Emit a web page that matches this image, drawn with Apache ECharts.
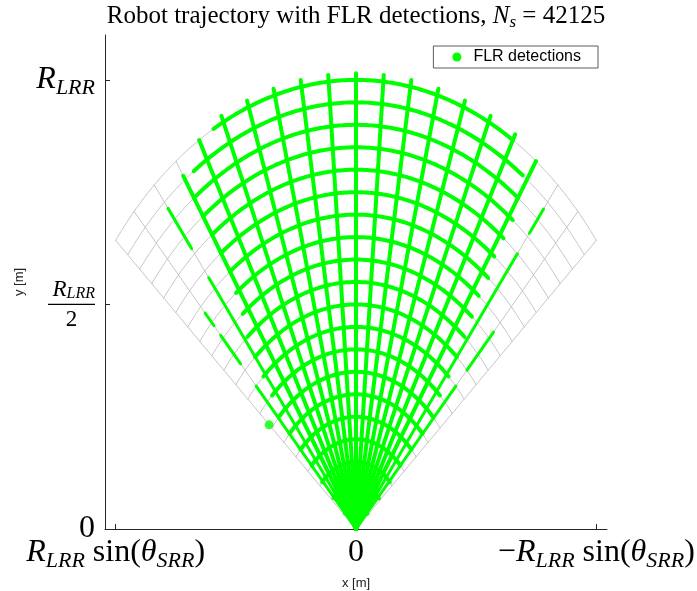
<!DOCTYPE html>
<html>
<head>
<meta charset="utf-8">
<script src="https://cdn.jsdelivr.net/npm/echarts@6/dist/echarts.min.js"></script>
<style>
  html, body { margin: 0; padding: 0; background: #fff; }
  #chart { width: 697px; height: 591px; }
</style>
</head>
<body>
<div id="chart"></div>
<script>
// sensor fan, normalised to R_LRR = 1
var thetaSRR = 50; // deg
var gridRadii = [0.05, 0.1, 0.15, 0.2, 0.25, 0.3, 0.35, 0.4, 0.45, 0.5,
                 0.55, 0.6, 0.65, 0.7, 0.75, 0.8, 0.85, 0.9, 0.95, 1.0];
var gridAngles = [-50, -45, -40, -35, -30, -25, -20, -15, -10, -5, 0,
                  5, 10, 15, 20, 25, 30, 35, 40, 45, 50];

// FLR detections along the trajectory
// radial legs: angle and the [from, to] radius pieces where detections show up
var detAngles = [-45, -40, -35, -30, -25, -20, -15, -10, -5, 0,
                 5, 10, 15, 20, 25, 30, 35, 40, 45];
var detRadialPieces = [
  [[0, 0.45], [0.5, 0.62]],
  [[0, 0.8], [0.86, 0.93]],
  [[0, 1.0]],
  [[0, 1.015]], [[0, 1.015]], [[0, 1.015]], [[0, 1.015]], [[0, 1.015]], [[0, 1.015]],
  [[0, 1.015]],
  [[0, 1.015]], [[0, 1.015]], [[0, 1.015]], [[0, 1.015]], [[0, 1.015]], [[0, 1.0]],
  [[0, 0.96]],
  [[0, 0.73], [0.815, 0.932]],
  [[0, 0.45], [0.52, 0.61], [0.64, 0.68]]
];
// arcs: angular extent of detections on each grid radius
var detArcRight = [-47, -47, -46, -45, -45, -45, -44, -42, -41, -40,
                   -39, -38, -37, -37, -36, -36, -36, -35, -34, -30];
var detArcLeft = [47, 47, 46, 45, 45, 45, 44, 42, 41, 40,
                  39, 37, 36, 35, 35, 35, 35, 35, 33, 27];
var strayX = [0.277];
var strayY = [0.232];

var yTicks = [0, 0.5, 1];
var xTicks = [-Math.sin(thetaSRR * Math.PI / 180), 0, Math.sin(thetaSRR * Math.PI / 180)];

var SERIF = 'Liberation Serif';
var SANS = 'Liberation Sans';
var GREEN = '#00ff00';

function pt(r, a) {
  var t = a * Math.PI / 180;
  return [r * Math.sin(t), r * Math.cos(t)];
}
function arc(r, a0, a1) {
  var out = [];
  var n = Math.max(2, Math.ceil(Math.abs(a1 - a0) / 0.5));
  for (var i = 0; i <= n; i++) out.push(pt(r, a0 + (a1 - a0) * i / n));
  return out;
}
function lineSeries(name, data, color, width, z) {
  return {
    name: name,
    type: 'line',
    data: data,
    symbol: 'none',
    silent: true,
    z: z,
    itemStyle: { color: color },
    lineStyle: { color: color, width: width, cap: 'round' }
  };
}

var series = [];
// gray planned grid
gridRadii.forEach(function (r) {
  series.push(lineSeries('grid', arc(r, -thetaSRR, thetaSRR), '#c6c6c6', 1, 1));
});
gridAngles.forEach(function (a) {
  series.push(lineSeries('grid', [[0, 0], pt(1, a)], '#c6c6c6', 1, 1));
});
// green detections
gridRadii.forEach(function (r, i) {
  series.push(lineSeries('FLR detections', arc(r, detArcRight[i], detArcLeft[i]), GREEN, 4, 3));
});
detAngles.forEach(function (a, i) {
  var edge = Math.abs(a) >= 40;
  detRadialPieces[i].forEach(function (p) {
    series.push(lineSeries('FLR detections', [pt(p[0], a), pt(p[1], a)], GREEN, edge ? 3 : 4, 3));
  });
});
series.push({
  name: 'FLR detections',
  type: 'scatter',
  data: strayX.map(function (x, i) { return [x, strayY[i]]; }),
  symbolSize: 9,
  silent: true,
  z: 4,
  itemStyle: { color: GREEN }
});

var big = { fontFamily: SERIF, fontSize: 32, fontStyle: 'italic', color: '#000', lineHeight: 38 };
var bigUp = { fontFamily: SERIF, fontSize: 32, color: '#000', lineHeight: 38 };
var sub = { fontFamily: SERIF, fontSize: 22, fontStyle: 'italic', color: '#000', verticalAlign: 'bottom', lineHeight: 38 };
var rich = {
  R: big, s: sub, u: bigUp,
  fR: { fontFamily: SERIF, fontSize: 23, fontStyle: 'italic', color: '#000', lineHeight: 24 },
  fs: { fontFamily: SERIF, fontSize: 16, fontStyle: 'italic', color: '#000', verticalAlign: 'bottom', lineHeight: 24 },
  bar: { width: 47, height: 1.2, backgroundColor: '#000', lineHeight: 6 },
  two: { fontFamily: SERIF, fontSize: 23, color: '#000', width: 47, align: 'center', lineHeight: 24 }
};

var chart = echarts.init(document.getElementById('chart'));
chart.setOption({
  animation: false,
  backgroundColor: '#fff',
  title: {
    text: 'Robot trajectory with FLR detections, {i|N}{s|s} = 42125',
    left: 351,
    textAlign: 'center',
    top: -4,
    textStyle: {
      fontFamily: SERIF, fontSize: 25, fontWeight: 'normal', color: '#000',
      rich: {
        i: { fontFamily: SERIF, fontSize: 25, fontStyle: 'italic', color: '#000' },
        s: { fontFamily: SERIF, fontSize: 17, fontStyle: 'italic', color: '#000', verticalAlign: 'bottom', lineHeight: 30 }
      }
    }
  },
  legend: {
    data: [{ name: 'FLR detections', icon: 'circle' }],
    right: 99,
    top: 46,
    itemWidth: 9,
    itemHeight: 9,
    itemGap: 8,
    padding: [3, 17, 3, 19],
    backgroundColor: '#fff',
    borderColor: '#333',
    borderWidth: 0.8,
    borderRadius: 0,
    textStyle: { fontFamily: SANS, fontSize: 16, color: '#000', padding: [0, 0, 0, 7] }
  },
  grid: { left: 105, right: 90, top: 35, bottom: 62, containLabel: false, outerBoundsMode: 'none' },
  xAxis: {
    type: 'value',
    inverse: true,
    min: -0.8,
    max: 0.8,
    name: 'x [m]',
    nameLocation: 'middle',
    nameGap: 42,
    nameTextStyle: { fontFamily: SANS, fontSize: 13, color: '#222' },
    axisLine: { onZero: false, lineStyle: { color: '#262626', width: 1 } },
    axisTick: { inside: true, length: 5, customValues: xTicks, lineStyle: { color: '#262626' } },
    splitLine: { show: false },
    axisLabel: {
      customValues: xTicks,
      margin: 5,
      hideOverlap: false,
      rich: rich,
      formatter: function (v) {
        if (Math.abs(v) < 1e-9) return '{u|0}';
        var core = '{R|R}{s|LRR}{u| sin(}{R|θ}{s|SRR}{u|)}';
        return v > 0 ? core : '{u|−}' + core;
      }
    }
  },
  yAxis: {
    type: 'value',
    min: 0,
    max: 1.1,
    name: 'y [m]',
    nameLocation: 'middle',
    nameGap: 78,
    nameTextStyle: { fontFamily: SANS, fontSize: 13, color: '#222' },
    axisLine: { onZero: false, lineStyle: { color: '#262626', width: 1 } },
    axisTick: { inside: true, length: 5, customValues: yTicks, lineStyle: { color: '#262626' } },
    splitLine: { show: false },
    axisLabel: {
      customValues: yTicks,
      margin: 10,
      rich: rich,
      formatter: function (v) {
        if (v === 0) return '{u|0}';
        if (v === 1) return '{R|R}{s|LRR}';
        return '{fR|R}{fs|LRR}\n{bar|}\n{two|2}';
      }
    }
  },
  series: series
});
</script>
</body>
</html>
